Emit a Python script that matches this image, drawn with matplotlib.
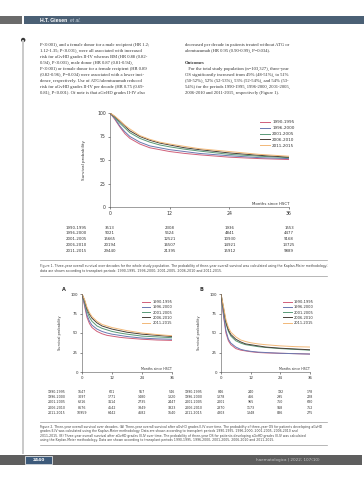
import matplotlib
matplotlib.use("Agg")
import matplotlib.pyplot as plt
from matplotlib.patches import Rectangle, Circle
from matplotlib import transforms

W, H = 364, 480

# ---- data ----
periods = ['1990-1995', '1996-2000', '2001-2005', '2006-2010', '2011-2015']
colors = ['#d0607a', '#6a78b0', '#5a9a78', '#4a4038', '#f2b878']
months = [0, 1, 2, 3, 4, 6, 8, 10, 12, 15, 18, 24, 30, 36]
month_ticks = [0, 12, 24, 36]
surv_ticks = [0, 25, 50, 75, 100]

# figure 1: overall survival, whole population (%)
os_all = [
    [100, 93, 85, 78, 73, 67, 63, 61, 59, 57, 55.5, 53, 51.5, 50.5],
    [100, 94, 86, 80, 75, 69, 65, 63, 61, 59, 57, 54.5, 52.5, 51.5],
    [100, 95, 89, 84, 79, 73, 69, 66, 64, 61.5, 59.5, 56, 54, 52.5],
    [100, 96, 91, 86, 81, 75, 71, 68, 66, 63, 61, 57.5, 55, 53],
    [100, 96.5, 92, 87, 83, 76, 72, 69, 67, 64.5, 62, 59, 56, 54],
]
risk_all = [
    [3513, 2308, 1936, 1553],
    [9021, 5624, 4841, 4477],
    [15665, 12521, 10930, 9168],
    [20194, 16507, 14921, 13725],
    [29440, 21395, 15912, 9889],
]

# figure 2A: OS after aGvHD grade II-IV (%)
os_gr2 = [
    [100, 85, 70, 62, 57, 52, 49, 47, 46, 44.5, 43.5, 42, 41, 40.5],
    [100, 87, 73, 65, 60, 55, 52, 50, 48.5, 47, 45.5, 43.5, 42.5, 42],
    [100, 90, 78, 70, 65, 59, 56, 54, 52, 50, 48.5, 46, 45, 44],
    [100, 92, 81, 74, 69, 63, 59, 57, 55, 53, 51, 48.5, 47, 45.5],
    [100, 93, 83, 76, 71, 65, 61, 59, 57, 55, 53, 50, 48, 46.5],
]
risk_gr2 = [
    [1647, 601, 557, 546],
    [3097, 1771, 1480, 1320],
    [6216, 3114, 2735, 2447],
    [8676, 4542, 3849, 3323],
    [10959, 6442, 4682, 1640],
]

# figure 2B: OS after aGvHD grade III-IV (%)
os_gr3 = [
    [100, 72, 50, 40, 35, 30, 28, 27, 26, 25, 24.5, 24, 23.5, 23],
    [100, 74, 53, 42, 37, 32, 29, 27.5, 26.5, 25.5, 25, 24, 23.5, 23],
    [100, 80, 62, 52, 46, 40, 37, 35, 34, 32.5, 31.5, 30, 29, 28],
    [100, 82, 64, 54, 48, 42, 38.5, 36, 35, 33.5, 32, 30.5, 29.5, 28.5],
    [100, 84, 67, 57, 51, 45, 41, 39, 37.5, 36, 35, 33.5, 32.5, 32],
]
risk_gr3 = [
    [846, 240, 192, 178],
    [1378, 466, 295, 228],
    [2001, 965, 750, 680],
    [2870, 1173, 918, 752],
    [4303, 1348, 836, 275],
]

left_col = [
    "P<0.001), and a female donor for a male recipient (HR 1.2;",
    "1.12-1.35; P<0.001), were all associated with increased",
    "risk for aGvHD grades II-IV whereas BM (HR 0.88 (0.82-",
    "0.94), P<0.001), male donor (HR 0.87 (0.81-0.94),",
    "P<0.001) or female donor for a female recipient (HR 0.89",
    "(0.82-0.96), P=0.004) were associated with a lower inci-",
    "dence, respectively. Use of ATG/alemtuzumab reduced",
    "risk for aGvHD grades II-IV per decade (HR 0.75 (0.69-",
    "0.81), P<0.001). Of note is that aGvHD grades II-IV also",
]
right_col = [
    "decreased per decade in patients treated without ATG or",
    "alemtuzumab (HR 0.95 (0.90-0.99), P=0.034).",
    "",
    "Outcomes",
    "   For the total study population (n=103,327), three-year",
    "OS significantly increased from 49% (48-51%), to 51%",
    "(50-52%), 52% (52-53%), 53% (52-54%), and 54% (53-",
    "54%) for the periods 1990-1995, 1996-2000, 2001-2005,",
    "2006-2010 and 2011-2015, respectively (Figure 1).",
]
caption1 = [
    "Figure 1. Three-year overall survival over decades for the whole study population. The probability of three-year overall survival was calculated using the Kaplan-Meier methodology;",
    "data are shown according to transplant periods: 1990-1995, 1996-2000, 2001-2005, 2006-2010 and 2011-2015.",
]
caption2 = [
    "Figure 2. Three-year overall survival over decades. (A) Three-year overall survival after aGvHD grades II-IV over time. The probability of three-year OS for patients developing aGvHD",
    "grades II-IV was calculated using the Kaplan-Meier methodology. Data are shown according to transplant periods 1990-1995, 1996-2000, 2001-2005, 2006-2010 and",
    "2011-2015. (B) Three-year overall survival after aGvHD grades III-IV over time. The probability of three-year OS for patients developing aGvHD grades III-IV was calculated",
    "using the Kaplan-Meier methodology. Data are shown according to transplant periods 1990-1995, 1996-2000, 2001-2005, 2006-2010 and 2011-2015.",
]

fig = plt.figure(figsize=(W / 100, H / 100), dpi=100)
fig.patch.set_facecolor('white')

# page canvas in pixel coords
page = fig.add_axes([0, 0, 1, 1])
page.set_xlim(0, W)
page.set_ylim(H, 0)
page.axis('off')

# header bar
page.add_patch(Rectangle((0, 16), 21.5, 8.3, color='#6b6b6b', lw=0))
page.add_patch(Rectangle((24, 16), W - 24, 8.3, color='#4b6075', lw=0))
page.text(40, 20.3, 'H.T. Giesen', color='white', fontsize=3.6, fontweight='bold',
          va='center', family='Liberation Sans')
page.text(70, 20.3, 'et al.', color='#c8d2dc', fontsize=3.6, style='italic',
          va='center', family='Liberation Sans')

# left margin line
page.plot([23.2, 23.2], [40, 454], color='#c9c9c9', lw=1.4, solid_capstyle='butt')
page.add_patch(Circle((23.2, 40), 2.2, color='#3a3a3a', lw=0))

# body text
for i, s in enumerate(left_col):
    page.text(39.5, 45 + i * 5.95, s, fontsize=3.35, family='Liberation Serif',
              color='#333333', va='center')
for i, s in enumerate(right_col):
    page.text(185, 45 + i * 5.95, s, fontsize=3.35, family='Liberation Serif',
              color='#333333', va='center',
              fontweight='bold' if s == 'Outcomes' else 'normal')


def px_axes(x0, y0, x1, y1):
    return fig.add_axes([x0 / W, 1 - y1 / H, (x1 - x0) / W, (y1 - y0) / H])


def km_panel(ax, curves, risk, rows_y, label_x, fs, leg_anchor, leg_fs, leg_sp, ylab_pad):
    for vals, c, p in zip(curves, colors, periods):
        ax.plot(months, vals, color=c, lw=0.7, label=p)
    ax.set_xlim(0, 36)
    ax.set_ylim(0, 100)
    ax.set_xticks(month_ticks)
    ax.set_yticks(surv_ticks)
    for sp in ['top', 'right']:
        ax.spines[sp].set_visible(False)
    for sp in ['left', 'bottom']:
        ax.spines[sp].set_linewidth(0.4)
        ax.spines[sp].set_color('#555555')
    ax.tick_params(labelsize=fs, length=1.5, width=0.4, pad=1.5, colors='#333333')
    ax.set_ylabel('Survival probability', fontsize=fs * 0.9, labelpad=ylab_pad, color='#333333')
    ax.text(36, 1.5, 'Months since HSCT', ha='right', va='bottom', fontsize=fs * 0.85,
            color='#333333')
    leg = ax.legend(loc='upper right', bbox_to_anchor=leg_anchor, frameon=False,
                    fontsize=leg_fs, handlelength=2.4, handletextpad=0.6,
                    labelspacing=leg_sp, borderaxespad=0)
    for t in leg.get_texts():
        t.set_color('#333333')
    # risk table under the axis
    tr = transforms.blended_transform_factory(ax.transData, page.transData)
    for row, p, y in zip(risk, periods, rows_y):
        page.text(label_x, y, p, ha='right', va='center', fontsize=fs * 0.85, color='#333333')
        for m, n in zip(month_ticks, row):
            ax.text(m, y, str(n), transform=tr, ha='center', va='center',
                    fontsize=fs * 0.85, color='#333333', clip_on=False)


# figure 1
ax1 = px_axes(110, 113, 289, 207)
km_panel(ax1, os_all, risk_all, [227.7, 233.5, 239.4, 245.3, 251.2], 87, 3.3,
         (1.04, 0.94), 3.0, 0.45, 8)

page.plot([40, 327], [259.5, 259.5], color='#9a9a9a', lw=0.5)
for i, s in enumerate(caption1):
    page.text(40, 266.5 + i * 4.3, s, fontsize=2.35, color='#444444', va='center')
page.plot([40, 327], [276, 276], color='#9a9a9a', lw=0.5)

# figure 2A / 2B
ax2 = px_axes(82, 294, 172, 372)
km_panel(ax2, os_gr2, risk_gr2, [391.7, 397, 402.4, 407.8, 413.3], 66, 2.8,
         (1.02, 0.94), 2.6, 0.33, 6)
page.text(61.5, 289.5, 'A', fontsize=3.6, fontweight='bold', color='#333333', va='center')

ax3 = px_axes(221, 294, 310, 372)
km_panel(ax3, os_gr3, risk_gr3, [391.7, 397, 402.4, 407.8, 413.3], 203, 2.8,
         (1.06, 0.94), 2.6, 0.33, 6)
page.text(200, 289.5, 'B', fontsize=3.6, fontweight='bold', color='#333333', va='center')

page.plot([40, 327], [421.5, 421.5], color='#9a9a9a', lw=0.5)
for i, s in enumerate(caption2):
    page.text(40, 426.7 + i * 4.5, s, fontsize=2.22, color='#444444', va='center')
page.plot([40, 327], [444.5, 444.5], color='#9a9a9a', lw=0.5)

# footer
page.add_patch(Rectangle((0, 454.5), 362, 10.5, color='#5e5e5e', lw=0))
page.add_patch(Rectangle((25, 455.5), 27, 8.5, facecolor='#3d5a7a', edgecolor='white', lw=0.5))
page.text(38.5, 459.8, '2440', color='white', fontsize=3.2, ha='center', va='center',
          fontweight='bold')
page.text(320, 459.8, 'haematologica | 2022; 107(10)', color='#c8c8c8', fontsize=3.0,
          ha='right', va='center')

fig.savefig('out.png', dpi=100)
